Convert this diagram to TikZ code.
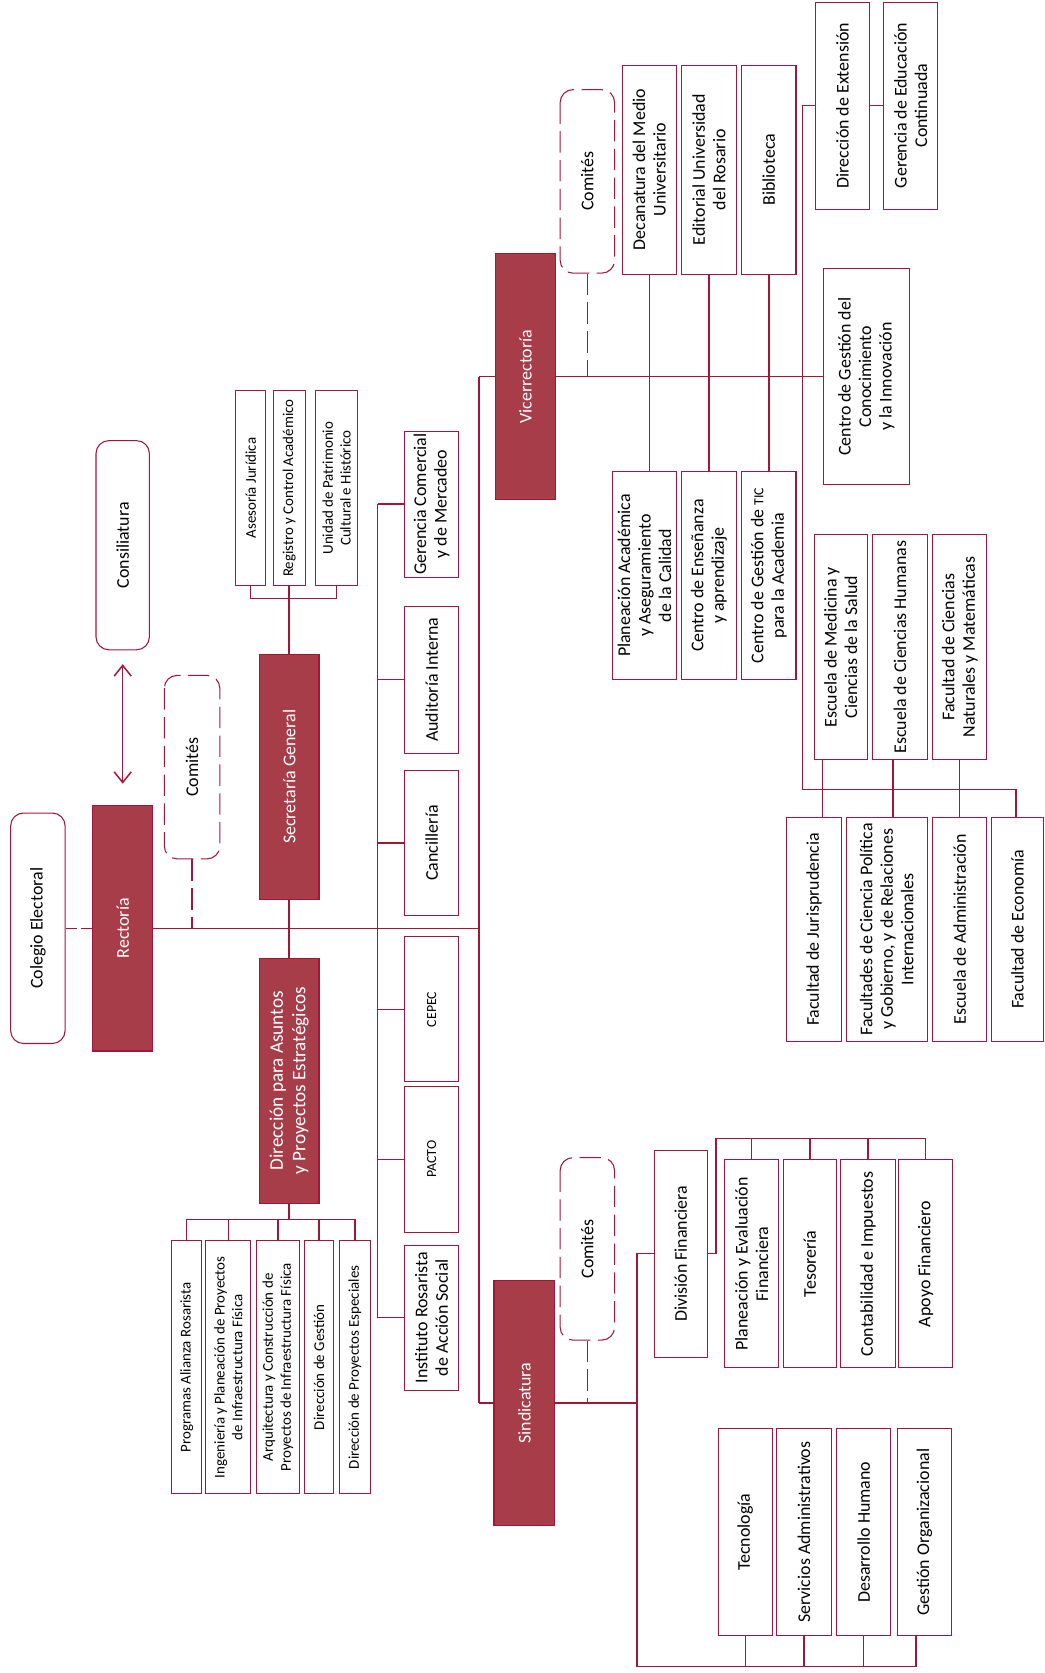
\documentclass[tikz,border=0pt]{standalone}
\usepackage{fontspec}
\setmainfont{Carlito}
\usepackage{tikz}
\usetikzlibrary{arrows.meta}
\definecolor{wine}{RGB}{163,22,58}
\definecolor{winefill}{RGB}{168,61,74}

\begin{document}
\begin{tikzpicture}[x=0.5pt, y=-0.5pt,
    wh/.style 2 args={minimum height=#1*0.5pt, minimum width=#2*0.5pt},
    unit/.style={draw=wine, line width=0.5pt, fill=white, rotate=90, align=center,
        inner sep=1pt, font=\fontsize{8.4}{9.6}\selectfont},
    head/.style={unit, fill=winefill, text=white},
    soft/.style={unit, rounded corners=6pt},
    comite/.style={soft, dash pattern=on 10pt off 3.5pt},
    fine/.style={font=\fontsize{7}{8.4}\selectfont},
    mini/.style={font=\fontsize{6.5}{8}\selectfont},
    link/.style={draw=wine, line width=0.7pt},
    dlink/.style={link, dash pattern=on 10pt off 3.5pt},
    glink/.style={link, dash pattern=on 5.5pt off 1.6pt}]
    \useasboundingbox (0,0) rectangle (979,1568);

    % Colegio Electoral
    \node[soft, wh={51}{216}] (coleg) at (35.5,870) {Colegio Electoral};

    % Rectoria
    \node[head, wh={56}{230}] (rect) at (115,870) {Rectoría};

    % Consiliatura
    \node[soft, wh={50}{196}] (consil) at (115,511) {Consiliatura};

    % Comites of Rectoria
    \node[comite, wh={52}{172}] (comR) at (180,719) {Comités};

    % Secretaria General
    \node[head, wh={56}{230}] (secre) at (271,728) {Secretaría General};
    \node[unit, fine, wh={28}{183}] (asesor) at (235,457.5) {Asesoría Jurídica};
    \node[unit, fine, wh={30}{183}] (regis) at (271,457.5) {Registro y Control Académico};
    \node[unit, fine, wh={39}{183}] (patri) at (315.5,457.5) {Unidad de Patrimonio\\Cultural e Histórico};

    % Direccion para Asuntos y Proyectos Estrategicos
    \node[head, wh={56}{230}, font=\fontsize{9}{10.5}\selectfont] (direc) at (271,1013) {Dirección para Asuntos\\y Proyectos Estratégicos};
    \node[unit, fine, wh={28}{237}] (progr) at (175,1281.5) {Programas Alianza Rosarista};
    \node[unit, fine, wh={42}{237}] (ingen) at (214,1281.5) {Ingeniería y Planeación de Proyectos\\de Infraestructura Física};
    \node[unit, fine, wh={41}{237}] (arqui) at (260.5,1281.5) {Arquitectura y Construcción de\\Proyectos de Infraestructura Física};
    \node[unit, fine, wh={28}{237}] (dges) at (299,1281.5) {Dirección de Gestión};
    \node[unit, fine, wh={29}{237}] (dproy) at (332.5,1281.5) {Dirección de Proyectos Especiales};

    % Staff units
    \node[unit, wh={51}{137}] (gerc) at (404.5,472.5) {Gerencia Comercial\\y de Mercadeo};
    \node[unit, wh={51}{138}] (audi) at (404.5,637) {Auditoría Interna};
    \node[unit, wh={51}{136}] (canci) at (404.5,790) {Cancillería};
    \node[unit, mini, wh={51}{136}] (cepec) at (404.5,946) {CEPEC};
    \node[unit, mini, wh={51}{137}] (pacto) at (404.5,1086.5) {PACTO};
    \node[unit, wh={51}{136}] (inst) at (404.5,1235) {Instituto Rosarista\\de Acción Social};

    % Vicerrectoria
    \node[head, wh={57}{230}] (vice) at (492.5,353) {Vicerrectoría};
    \node[comite, wh={51}{172}] (comV) at (550.5,170) {Comités};
    \node[unit, wh={51}{196}] (decan) at (608.5,159) {Decanatura del Medio\\Universitario};
    \node[unit, wh={51}{196}] (edit) at (664.5,159) {Editorial Universidad\\del Rosario};
    \node[unit, wh={51}{196}] (bibl) at (720.5,159) {Biblioteca};
    \node[unit, wh={51}{194}] (dext) at (789.5,99) {Dirección de Extensión};
    \node[unit, wh={51}{194}] (gedu) at (853.5,99) {Gerencia de Educación\\Continuada};
    \node[unit, wh={80}{202}] (cgc) at (812,353) {Centro de Gestión del\\Conocimiento\\y la Innovación};
    \node[unit, wh={60}{195}] (plan) at (604,539.5) {Planeación Académica\\y Aseguramiento\\de la Calidad};
    \node[unit, wh={51}{195}] (ensen) at (664.5,539.5) {Centro de Enseñanza\\y aprendizaje};
    \node[unit, wh={51}{195}] (ctic) at (720.5,539.5) {Centro de Gestión de {\fontsize{6.5}{8}\selectfont TIC}\\para la Academia};

    % Faculties
    \node[unit, wh={50}{211}] (medic) at (788,606.5) {Escuela de Medicina y\\Ciencias de la Salud};
    \node[unit, wh={51}{211}] (human) at (843.5,606.5) {Escuela de Ciencias Humanas};
    \node[unit, wh={51}{211}] (natur) at (899.5,606.5) {Facultad de Ciencias\\Naturales y Matemáticas};
    \node[unit, wh={52}{210}] (juris) at (763,871) {Facultad de Jurisprudencia};
    \node[unit, wh={76}{210}] (cpol) at (831,871) {Facultades de Ciencia Política\\y Gobierno, y de Relaciones\\Internacionales};
    \node[unit, wh={51}{210}] (admin) at (899.5,871) {Escuela de Administración};
    \node[unit, wh={49}{210}] (econ) at (953.5,871) {Facultad de Economía};

    % Sindicatura
    \node[head, wh={57}{230}] (sindi) at (491.5,1315) {Sindicatura};
    \node[comite, wh={51}{171}] (comS) at (550.5,1170.5) {Comités};
    \node[unit, wh={50}{194}] (divf) at (638,1175) {División Financiera};
    \node[unit, wh={51}{195}] (plev) at (704.5,1184.5) {Planeación y Evaluación\\Financiera};
    \node[unit, wh={50}{195}] (teso) at (759,1184.5) {Tesorería};
    \node[unit, wh={51}{195}] (conta) at (813.5,1184.5) {Contabilidad e Impuestos};
    \node[unit, wh={51}{195}] (apoyo) at (867.5,1184.5) {Apoyo Financiero};
    \node[unit, wh={51}{194}] (tecno) at (698.5,1436) {Tecnología};
    \node[unit, wh={51}{194}] (serv) at (753.5,1436) {Servicios Administrativos};
    \node[unit, wh={51}{194}] (dhum) at (809.5,1436) {Desarrollo Humano};
    \node[unit, wh={51}{194}] (gorg) at (866.5,1436) {Gestión Organizacional};

    % Junctions
    \coordinate (bus) at (449,870);
    \coordinate (busN) at (449,353);
    \coordinate (busS) at (449,1315);
    \coordinate (staffN) at (354,472.5);
    \coordinate (staffS) at (354,1235);
    \coordinate (secJ) at (271,561);
    \coordinate (dirJ) at (271,1143);
    \coordinate (facL) at (752,740);
    \coordinate (facR) at (952,740);
    \coordinate (kJ) at (771,740);
    \coordinate (kP) at (837,740);
    \coordinate (sinJ) at (597,1315);
    \coordinate (sinB) at (597,1562);
    \coordinate (finJ) at (671,1067);

    % Connections
    \draw[glink] (coleg) -- (rect);
    \draw[link] (rect) -- (bus);
    \draw[link, <->, >={Straight Barb[length=5pt, width=8pt]}, shorten <=6.5pt, shorten >=10pt] (consil) -- (rect);
    \draw[dlink] (comR) -- (comR |- bus);
    \draw[link] (secre) -- (direc);
    \draw[link] (secre) -- (secJ);
    \draw[link] (asesor) |- (secJ) -| (patri);
    \draw[link] (regis) -- (secJ);
    \draw[link] (direc) -- (dirJ);
    \draw[link] (progr) |- (dirJ) -| (dproy);
    \draw[link] (ingen) -- (ingen |- dirJ);
    \draw[link] (arqui) -- (arqui |- dirJ);
    \draw[link] (dges) -- (dges |- dirJ);

    \draw[link] (staffN) -- (staffS);
    \draw[link] (staffN) -- (gerc);
    \draw[link] (staffN |- audi) -- (audi);
    \draw[link] (staffN |- canci) -- (canci);
    \draw[link] (staffN |- cepec) -- (cepec);
    \draw[link] (staffN |- pacto) -- (pacto);
    \draw[link] (staffS) -- (inst);

    \draw[link] (busN) -- (busS);
    \draw[link] (busN) -- (vice);
    \draw[link] (busS) -- (sindi);

    \draw[link] (vice) -- (cgc);
    \draw[dlink] (comV) -- (comV |- vice);
    \draw[link] (decan) -- (decan |- plan.east);
    \draw[link] (edit) -- (ensen);
    \draw[link] (bibl) -- (ctic);
    \draw[link] (dext) -- (gedu);
    \draw[link] (dext) -| (facL) -- (facR) -- (facR |- econ.east);
    \draw[link] (kJ |- medic.west) -- (kJ |- juris.east);
    \draw[link] (kP |- human.west) -- (kP |- cpol.east);
    \draw[link] (natur) -- (admin);

    \draw[link] (sindi) -- (sinJ);
    \draw[dlink] (comS) -- (comS |- sindi);
    \draw[link] (divf) -| (sinB) -| ([xshift=-4pt]gorg.west);
    \draw[link] (tecno) -- (tecno |- sinB);
    \draw[link] (serv) -- (serv |- sinB);
    \draw[link] (dhum) -- (dhum |- sinB);
    \draw[link] (divf) -| (finJ) -| (apoyo);
    \draw[link] (plev) -- (plev |- finJ);
    \draw[link] (teso) -- (teso |- finJ);
    \draw[link] (conta) -- (conta |- finJ);

\end{tikzpicture}
\end{document}
